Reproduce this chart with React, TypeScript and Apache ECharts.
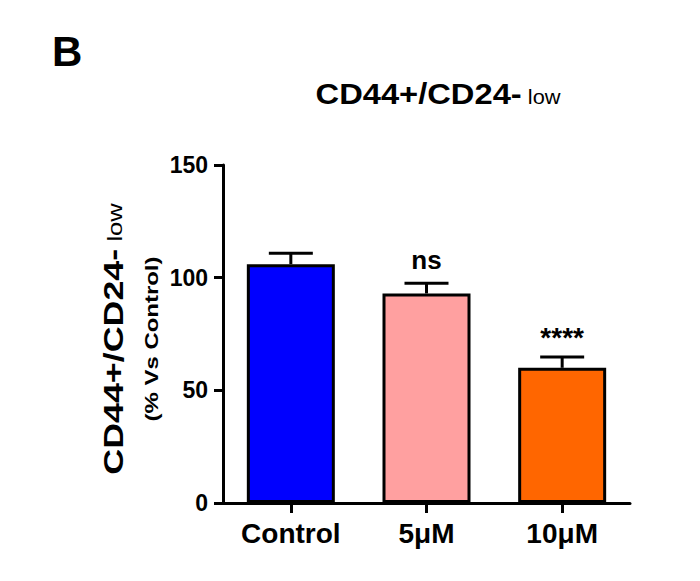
import React, { useEffect, useRef } from "react";
import * as echarts from "echarts";

const categories = ["Control", "5μM", "10μM"];
const means = [106, 93, 60];
const errors = [4.8, 4.5, 4.8];
const significance = ["", "ns", "****"];
const barColors = ["#0000FF", "#FFA0A0", "#FF6600"];
const yMin = 0;
const yMax = 150;
const yInterval = 50;

const FONT = "'Liberation Sans', Arial, Helvetica, sans-serif";

export default function App() {
  const ref = useRef<HTMLDivElement>(null);

  useEffect(() => {
    if (!ref.current) return;
    const chart = echarts.init(ref.current, null, { renderer: "svg" });

    chart.setOption({
      animation: false,
      backgroundColor: "#ffffff",
      grid: { left: 223, right: 70, top: 165, bottom: 78, containLabel: false },
      graphic: [
        {
          type: "text",
          x: 52,
          y: 51,
          style: {
            text: "B",
            font: `bold 42px ${FONT}`,
            fill: "#000",
            align: "left",
            verticalAlign: "middle",
          },
        },
        {
          type: "text",
          x: 438,
          y: 94,
          scaleX: 1.09,
          style: {
            text: "{a|CD44+/CD24-}{b| low}",
            align: "center",
            verticalAlign: "middle",
            rich: {
              a: { fontSize: 30, fontWeight: "bold", fontFamily: FONT, color: "#000", lineHeight: 30, verticalAlign: "bottom" },
              b: { fontSize: 20, fontWeight: "normal", fontFamily: FONT, color: "#000", lineHeight: 20, padding: [0, 0, 2, 0], verticalAlign: "bottom" },
            },
          },
        },
        {
          type: "text",
          x: 113,
          y: 339,
          rotation: Math.PI / 2,
          scaleX: 1.28,
          style: {
            text: "{a|CD44+/CD24-}{b| low}",
            align: "center",
            verticalAlign: "middle",
            rich: {
              a: { fontSize: 28, fontWeight: "bold", fontFamily: FONT, color: "#000", lineHeight: 28, verticalAlign: "bottom" },
              b: { fontSize: 20, fontWeight: "normal", fontFamily: FONT, color: "#000", lineHeight: 20, padding: [0, 0, 2, 0], verticalAlign: "bottom" },
            },
          },
        },
        {
          type: "text",
          x: 151,
          y: 339,
          rotation: Math.PI / 2,
          scaleX: 1.26,
          style: {
            text: "(% Vs Control)",
            font: `bold 19px ${FONT}`,
            fill: "#000",
            align: "center",
            verticalAlign: "middle",
          },
        },
      ],
      xAxis: {
        type: "category",
        data: categories,
        axisLine: { show: true, lineStyle: { color: "#000", width: 3 } },
        axisTick: { show: true, alignWithLabel: true, length: 10, lineStyle: { color: "#000", width: 3 } },
        axisLabel: { color: "#000", fontSize: 28, fontWeight: "bold", fontFamily: FONT, margin: 16 },
        splitLine: { show: false },
      },
      yAxis: {
        type: "value",
        min: yMin,
        max: yMax,
        interval: yInterval,
        axisLine: { show: true, lineStyle: { color: "#000", width: 3 } },
        axisTick: { show: true, length: 9, lineStyle: { color: "#000", width: 3 } },
        axisLabel: { color: "#000", fontSize: 23, fontWeight: "bold", fontFamily: FONT, margin: 15 },
        splitLine: { show: false },
      },
      series: [
        {
          type: "bar",
          data: means.map((v, i) => ({ value: v, itemStyle: { color: barColors[i] } })),
          barWidth: 88,
          itemStyle: { borderColor: "#000", borderWidth: 3 },
          z: 2,
        },
        {
          type: "custom",
          data: means.map((m, i) => [i, m, errors[i]]),
          z: 10,
          renderItem: (params: any, api: any) => {
            const i = api.value(0);
            const m = api.value(1);
            const e = api.value(2);
            const base = api.coord([i, m]);
            const top = api.coord([i, m + e]);
            const capHalf = 22;
            const lineStyle = { stroke: "#000", lineWidth: 3 };
            const children: any[] = [
              { type: "line", shape: { x1: base[0], y1: base[1], x2: top[0], y2: top[1] }, style: lineStyle },
              { type: "line", shape: { x1: top[0] - capHalf, y1: top[1], x2: top[0] + capHalf, y2: top[1] }, style: lineStyle },
            ];
            const label = significance[params.dataIndex];
            if (label) {
              const isStars = label.indexOf("*") >= 0;
              children.push({
                type: "text",
                x: top[0],
                y: top[1] - (isStars ? 19 : 23),
                style: {
                  text: label,
                  font: `bold ${isStars ? 28 : 26}px ${FONT}`,
                  fill: "#000",
                  align: "center",
                  verticalAlign: "middle",
                },
              });
            }
            return { type: "group", children };
          },
        },
      ],
    });

    return () => {
      chart.dispose();
    };
  }, []);

  return (
    <div
      ref={ref}
      style={{ position: "fixed", left: 0, top: 0, width: 700, height: 581, background: "#fff" }}
    />
  );
}
